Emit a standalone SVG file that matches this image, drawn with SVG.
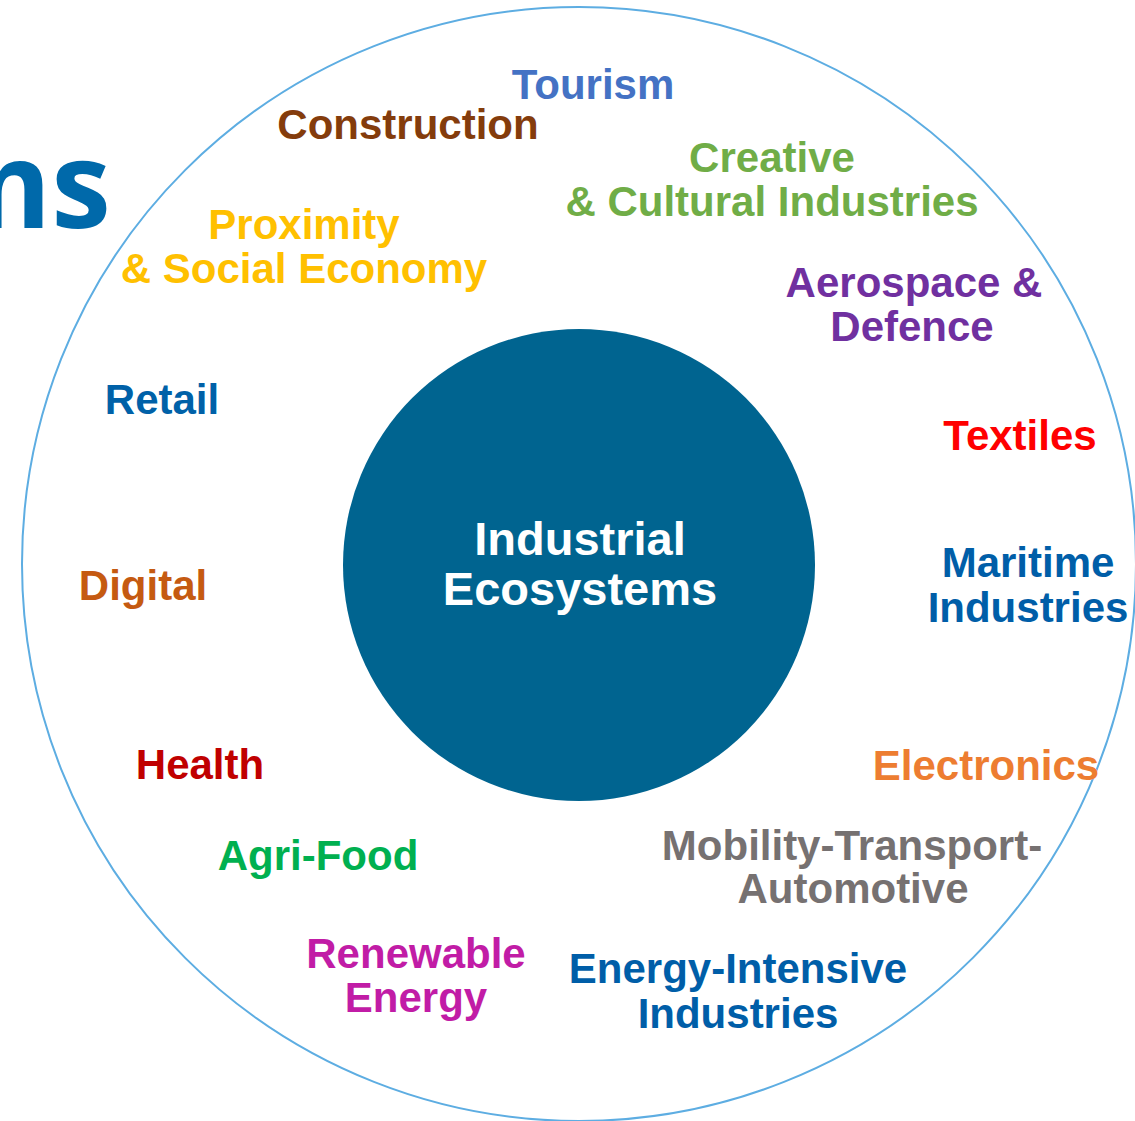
<svg xmlns="http://www.w3.org/2000/svg" width="1135" height="1121" viewBox="0 0 1135 1121">
<style>
.l{font-family:"Liberation Sans",Arial,sans-serif;font-weight:bold;font-size:42px;text-anchor:middle}
.c{font-family:"Liberation Sans",Arial,sans-serif;font-weight:bold;font-size:47px;text-anchor:middle;fill:#FFFFFF}
</style>
<rect width="1135" height="1121" fill="#FFFFFF"/>
<text x="111" y="228" font-family="'Open Sans',sans-serif" font-weight="bold" font-size="120" fill="#0069AA" text-anchor="end">ms</text>
<g id="ring">
<circle cx="579" cy="564" r="557" fill="none" stroke="#5DADE2" stroke-width="2"/>
</g>
<g id="connectors"></g>
<g id="center">
<circle cx="579" cy="565" r="236" fill="#006490"/>
<text class="c" x="580" y="555">Industrial</text>
<text class="c" x="580" y="605">Ecosystems</text>
</g>
<g id="tourism"><text class="l" x="593" y="99" fill="#4472C4">Tourism</text></g>
<g id="construction"><text class="l" x="408" y="139" fill="#843C0C">Construction</text></g>
<g id="creative"><text class="l" x="772" y="172" fill="#70AD47">Creative</text><text class="l" x="772" y="216" fill="#70AD47">&amp; Cultural Industries</text></g>
<g id="proximity"><text class="l" x="304" y="239" fill="#FFC000">Proximity</text><text class="l" x="304" y="283" fill="#FFC000">&amp; Social Economy</text></g>
<g id="aerospace"><text class="l" x="914" y="297" fill="#7030A0">Aerospace &amp;</text><text class="l" x="912" y="341" fill="#7030A0">Defence</text></g>
<g id="textiles"><text class="l" x="1020" y="450" fill="#FF0000">Textiles</text></g>
<g id="maritime"><text class="l" x="1028" y="577" fill="#005EA8">Maritime</text><text class="l" x="1028" y="622" fill="#005EA8">Industries</text></g>
<g id="electronics"><text class="l" x="986" y="780" fill="#ED7D31">Electronics</text></g>
<g id="mobility"><text class="l" x="852" y="860" fill="#767171">Mobility-Transport-</text><text class="l" x="853" y="903" fill="#767171">Automotive</text></g>
<g id="energy-intensive"><text class="l" x="738" y="983" fill="#005EA8">Energy-Intensive</text><text class="l" x="738" y="1028" fill="#005EA8">Industries</text></g>
<g id="renewable"><text class="l" x="416" y="968" fill="#C11CA6">Renewable</text><text class="l" x="416" y="1012" fill="#C11CA6">Energy</text></g>
<g id="agrifood"><text class="l" x="318" y="870" fill="#00B050">Agri-Food</text></g>
<g id="health"><text class="l" x="200" y="779" fill="#C00000">Health</text></g>
<g id="digital"><text class="l" x="143" y="600" fill="#C55A11">Digital</text></g>
<g id="retail"><text class="l" x="162" y="414" fill="#0061A8">Retail</text></g>
</svg>
